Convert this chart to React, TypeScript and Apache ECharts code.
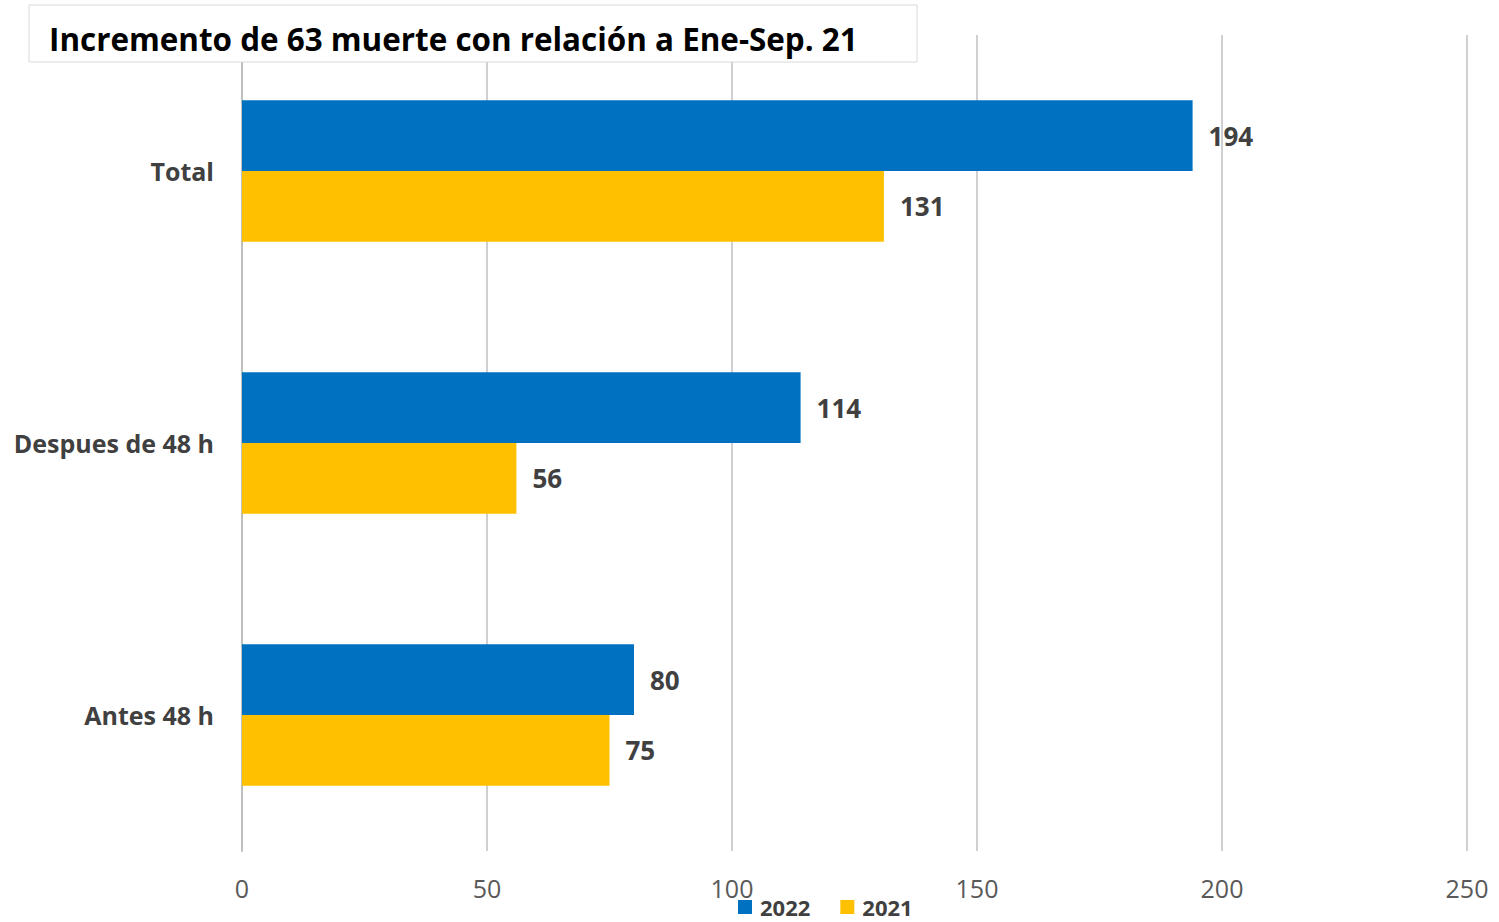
import React, { useEffect, useRef } from "react";
import * as echarts from "echarts";

const categories = ["Antes 48 h", "Despues de 48 h", "Total"];
const values2022 = [80, 114, 194];
const values2021 = [75, 56, 131];
const titleText = "Incremento de 63 muerte con relación a Ene-Sep. 21";

export default function App() {
  const ref = useRef<HTMLDivElement>(null);
  useEffect(() => {
    if (!ref.current) return;
    const chart = echarts.init(ref.current, null, { renderer: "svg" });
    const labelStyle = {
      show: true,
      position: "right" as const,
      distance: 16,
      color: "#404040",
      fontSize: 26,
      fontWeight: "bold" as const,
      fontFamily: "Open Sans",
    };
    chart.setOption({
      animation: false,
      backgroundColor: "#ffffff",
      grid: { left: 242, right: 32, top: 35, bottom: 71, containLabel: false },
      xAxis: {
        type: "value",
        min: 0,
        max: 250,
        interval: 50,
        axisLine: { show: false },
        axisTick: { show: false },
        splitLine: { show: true, lineStyle: { color: "#d0d0d0", width: 2 } },
        axisLabel: { color: "#595959", fontSize: 25, margin: 24, fontFamily: "Open Sans" },
      },
      yAxis: {
        type: "category",
        data: categories,
        axisLine: { show: true, lineStyle: { color: "#bfbfbf", width: 2 } },
        axisTick: { show: false },
        axisLabel: {
          color: "#404040",
          fontSize: 25,
          fontWeight: "bold",
          margin: 28,
          fontFamily: "Open Sans",
        },
      },
      legend: {
        data: ["2022", "2021"],
        left: 738,
        top: 895,
        padding: 0,
        itemWidth: 14,
        itemHeight: 14,
        itemGap: 30,
        icon: "rect",
        textStyle: {
          color: "#404040",
          fontSize: 22,
          lineHeight: 24,
          fontWeight: "bold",
          fontFamily: "Open Sans",
          padding: [0, 0, 0, 3],
        },
      },
      series: [
        {
          name: "2022",
          type: "bar",
          data: values2022,
          barGap: "0%",
          barCategoryGap: "48%",
          itemStyle: { color: "#0070C0" },
          label: labelStyle,
        },
        {
          name: "2021",
          type: "bar",
          data: values2021,
          barGap: "0%",
          barCategoryGap: "48%",
          itemStyle: { color: "#FFC000" },
          label: labelStyle,
        },
      ],
      graphic: [
        {
          type: "rect",
          z: 100,
          shape: { x: 29, y: 5, width: 888, height: 57 },
          style: { fill: "#ffffff", stroke: "#d9d9d9", lineWidth: 1 },
        },
        {
          type: "text",
          z: 101,
          x: 49,
          y: 38,
          style: {
            text: titleText,
            fill: "#000000",
            fontSize: 31.4,
            fontWeight: "bold",
            fontFamily: "Open Sans",
            verticalAlign: "middle",
          },
        },
      ],
    });
    return () => chart.dispose();
  }, []);
  return <div ref={ref} style={{ width: 1499, height: 922, position: "absolute", left: 0, top: 0 }} />;
}
